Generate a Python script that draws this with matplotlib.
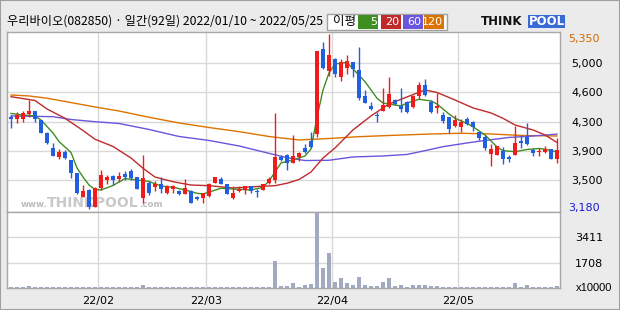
import matplotlib
matplotlib.use("Agg")
import matplotlib.pyplot as plt
from matplotlib.patches import Rectangle

# === DATA ===
title = "우리바이오(082850) · 일간(92일) 2022/01/10 ~ 2022/05/25"

opens = [4325, 4295, 4295, 4355, 4395, 4285, 4125, 3935, 3825, 3890,
         3790, 3625, 3335, 3420, 3210, 3445, 3540, 3590, 3550, 3615,
         3655, 3580, 3325, 3500, 3460, 3495, 3385, 3430, 3410, 3375,
         3410, 3330, 3320, 3350, 3510, 3555, 3495, 3320, 3410, 3420,
         3470, 3410, 3420, 3500, 3540, 3830, 3850, 3755, 3830, 3940,
         4025, 4110, 5160, 4895, 5040, 4810, 4925, 5000, 4900, 4585,
         4455, 4345, 4395, 4440, 4525, 4455, 4505, 4440, 4580, 4715,
         4505, 4435, 4345, 4325, 4210, 4200, 4295, 4265, 4140, 4070,
         3860, 3850, 3905, 3825, 3850, 4025, 4070, 3915, 3890, 3890,
         3925, 3800]
highs = [4340, 4385, 4395, 4525, 4400, 4290, 4130, 4005, 3925, 3915,
         3795, 3630, 3480, 3430, 3450, 3665, 3600, 3605, 3640, 3650,
         3675, 3585, 3850, 3530, 3530, 3575, 3480, 3480, 3420, 3555,
         3420, 3345, 3385, 3505, 3580, 3575, 3495, 3470, 3470, 3470,
         3470, 3425, 3495, 3575, 4370, 3850, 3865, 4100, 3890, 3985,
         4140, 5140, 5250, 5350, 5045, 5040, 5090, 5000, 5190, 4655,
         4510, 4380, 4675, 4820, 4545, 4675, 4520, 4595, 4755, 4790,
         4530, 4620, 4380, 4325, 4345, 4295, 4315, 4270, 4140, 4100,
         3985, 3965, 3945, 3850, 4210, 4100, 4250, 3935, 3940, 3965,
         3925, 4060]
lows = [4190, 4245, 4260, 4325, 4260, 4120, 3990, 3840, 3800, 3800,
        3570, 3370, 3330, 3180, 3210, 3420, 3495, 3480, 3520, 3540,
        3540, 3430, 3255, 3355, 3410, 3380, 3370, 3380, 3355, 3365,
        3260, 3300, 3260, 3335, 3510, 3495, 3365, 3310, 3395, 3370,
        3380, 3335, 3420, 3495, 3500, 3775, 3665, 3755, 3775, 3880,
        3935, 4070, 4910, 4830, 4820, 4760, 4855, 4820, 4525, 4490,
        4410, 4265, 4395, 4430, 4470, 4380, 4365, 4435, 4540, 4580,
        4370, 4365, 4245, 4120, 4200, 4140, 4220, 4150, 4035, 3915,
        3720, 3850, 3740, 3760, 3850, 3935, 3975, 3840, 3840, 3870,
        3800, 3755]
closes = [4295, 4345, 4370, 4395, 4295, 4125, 3995, 3840, 3890, 3810,
          3625, 3380, 3405, 3210, 3440, 3600, 3580, 3540, 3590, 3585,
          3565, 3435, 3570, 3380, 3495, 3430, 3470, 3470, 3365, 3445,
          3260, 3305, 3385, 3495, 3575, 3495, 3365, 3380, 3435, 3470,
          3410, 3395, 3495, 3555, 3825, 3790, 3755, 3840, 3880, 3890,
          3945, 5140, 4930, 5090, 4855, 4995, 5015, 4910, 4555, 4500,
          4420, 4335, 4465, 4605, 4480, 4420, 4385, 4580, 4715, 4590,
          4380, 4455, 4270, 4170, 4285, 4265, 4235, 4195, 4060, 3935,
          3925, 3965, 3800, 3800, 4005, 3995, 3985, 3870, 3905, 3925,
          3800, 3915]
# volume, x10000 shares
volumes = [90, 80, 70, 120, 90, 70, 60, 70, 60, 60,
           60, 70, 60, 70, 60, 80, 60, 60, 50, 60,
           60, 50, 190, 80, 60, 50, 50, 50, 50, 60,
           60, 50, 50, 60, 50, 50, 50, 50, 50, 50,
           50, 50, 60, 80, 1800, 120, 120, 320, 70, 180,
           280, 5117, 1380, 2350, 420, 690, 350, 230, 740, 180,
           120, 120, 420, 690, 160, 180, 90, 200, 200, 200,
           140, 140, 70, 60, 60, 70, 60, 60, 60, 60,
           60, 60, 60, 60, 350, 90, 200, 60, 60, 70,
           60, 110]

ma5_idx = [0, 2, 4, 5, 7, 8, 10, 11, 12, 13, 14, 15, 17, 19, 21, 23, 25, 27, 29,
           31, 32, 35, 38, 40, 42, 43, 44, 45, 47, 49, 50, 51, 52, 53, 54, 56, 57,
           59, 61, 62, 65, 66, 68, 70, 71, 73, 74, 76, 77, 79, 81, 82, 84, 86, 88,
           89, 91]
ma5 = [4365, 4346, 4334, 4284, 4123, 4018, 3882, 3691, 3579, 3480, 3425, 3419,
       3474, 3561, 3542, 3524, 3468, 3452, 3419, 3378, 3369, 3440, 3427, 3419,
       3452, 3530, 3641, 3753, 3790, 3839, 3926, 4321, 4655, 4865, 4977, 4995,
       4915, 4758, 4553, 4494, 4457, 4494, 4540, 4519, 4482, 4358, 4305, 4241,
       4201, 4099, 3950, 3905, 3892, 3919, 3932, 3922, 3889]
ma20_idx = [0, 4, 6, 9, 12, 14, 17, 20, 22, 24, 27, 30, 33, 37, 41, 44, 46, 48,
            50, 52, 54, 57, 60, 63, 66, 69, 71, 74, 77, 80, 82, 84, 87, 89, 91]
ma20 = [4572, 4525, 4420, 4305, 4154, 4046, 3957, 3814, 3687, 3579, 3521, 3480,
        3472, 3443, 3462, 3472, 3502, 3548, 3641, 3814, 3938, 4161, 4334, 4482,
        4569, 4655, 4624, 4531, 4433, 4371, 4305, 4222, 4161, 4099, 4006]
ma60_idx = [0, 7, 10, 14, 18, 23, 28, 33, 38, 43, 46, 49, 53, 57, 62, 66, 69,
            72, 76, 79, 83, 87, 91]
ma60 = [4334, 4325, 4290, 4263, 4241, 4167, 4080, 4031, 3963, 3872, 3818, 3783,
        3786, 3827, 3839, 3858, 3905, 3954, 4000, 4031, 4068, 4086, 4109]
ma120_idx = [0, 3, 6, 9, 14, 18, 23, 28, 33, 38, 43, 48, 53, 58, 64, 70, 75, 80,
             85, 91]
ma120 = [4593, 4581, 4553, 4513, 4445, 4395, 4318, 4247, 4191, 4140, 4080, 4037,
         4055, 4078, 4095, 4111, 4120, 4111, 4093, 4086]

month_starts = [15, 33, 54, 75]
month_labels = ["22/02", "22/03", "22/04", "22/05"]
price_hi, price_lo = 5350, 3180
price_labels = ["3,500", "3,900", "4,300", "4,600", "5,000"]
vol_max = 5117
vol_labels = ["1708", "3411"]
ma_names = ["5", "20", "60", "120"]

# === STYLE ===
UP, DOWN = "#f01c1c", "#1f5fe0"
MA_COLORS = ["#3d8f22", "#c02a2a", "#6a55dd", "#dd7200"]
GRID = "#d9d9d9"
BG = "#ebebeb"
KR = ["Noto Sans CJK KR", "DejaVu Sans"]

W, H = 620, 310
def box(x0, y0, x1, y1):
    return [x0 / W, 1 - y1 / H, (x1 - x0) / W, (y1 - y0) / H]

def px_to_idx(px):
    return (px - 11) / 6.0

fig = plt.figure(figsize=(6.2, 3.1), dpi=100, facecolor=BG)
ax = fig.add_axes(box(7, 32, 560, 212))
axv = fig.add_axes(box(7, 212, 560, 288), sharex=ax)

n = len(closes)
x = list(range(n))

# price panel
step = (price_hi - price_lo) / 6
levels = [price_lo + k * step for k in range(1, 6)]
ax.set_ylim(price_lo - 2.7 * 12.365, price_hi + 1.75 * 12.365)
ax.set_xlim(-0.667, 91.5)
for lv in levels:
    ax.axhline(lv, color=GRID, lw=1, zorder=0)
for m in month_starts:
    ax.axvline(m - 0.5, color=GRID, lw=1, zorder=0)
    axv.axvline(m - 0.5, color=GRID, lw=1, zorder=0)

# watermark
ax.text(px_to_idx(21), 3240, "www.", fontsize=6.2, color="#bdbdbd",
        fontweight="bold", va="center", zorder=1)
ax.text(px_to_idx(47), 3255, "THINKPOOL", fontsize=10, color="#c9c9c9",
        fontweight="bold", va="center", zorder=1)
ax.text(px_to_idx(139), 3240, ".com", fontsize=6.2, color="#bdbdbd",
        fontweight="bold", va="center", zorder=1)

for xs, ys, c in zip([ma120_idx, ma60_idx, ma20_idx, ma5_idx],
                     [ma120, ma60, ma20, ma5], MA_COLORS[::-1]):
    ax.plot(xs, ys, color=c, lw=1.0, zorder=2)

for i in x:
    o, h, l, c = opens[i], highs[i], lows[i], closes[i]
    col = UP if c >= o else DOWN
    ax.vlines(i, l, h, color=col, lw=1, zorder=3)
    lo, hi = min(o, c), max(o, c)
    ax.bar(i, max(hi - lo, 12), bottom=lo, width=0.8, color=col, lw=0, zorder=4)

ax.yaxis.tick_right()
ax.set_yticks(levels)
ax.set_yticklabels(price_labels)
ax.tick_params(axis="y", length=0, pad=8, labelsize=8)
ax.tick_params(axis="x", length=0, labelbottom=False)
ax.text(1.0145, price_hi, "5,350", transform=ax.get_yaxis_transform(),
        color="#d06a00", fontsize=8, ha="left", va="top")
ax.text(1.0145, price_lo + 20, "3,180", transform=ax.get_yaxis_transform(),
        color="#1a1ad0", fontsize=8, ha="left", va="center")

# volume panel
axv.set_ylim(0, vol_max * 1.0)
for k in (1, 2):
    axv.axhline(vol_max * k / 3, color=GRID, lw=1, zorder=0)
axv.bar(x, volumes, width=0.8, color="#a2aac1", lw=0, zorder=2)
axv.yaxis.tick_right()
axv.set_yticks([vol_max / 3, vol_max * 2 / 3])
axv.set_yticklabels(vol_labels)
axv.tick_params(axis="y", length=0, pad=11, labelsize=8)
axv.text((576 - 7) / 553, 0.0, "x10000", transform=axv.transAxes,
         fontsize=8, family="Liberation Sans", ha="left", va="center")
axv.set_xticks([m - 0.5 for m in month_starts])
axv.set_xticklabels(month_labels)
axv.tick_params(axis="x", length=0, pad=6, labelsize=8)

for a in (ax, axv):
    a.set_facecolor("white")
    for s in a.spines.values():
        s.set_color("#a8a8a8")
        s.set_linewidth(1)

# header
fig.text(7 / W, 1 - 21 / H, title, family=KR, fontsize=8.8, va="center", ha="left")
fig.patches.append(Rectangle((327 / W, 1 - 29.5 / H), 120 / W, 15.5 / H,
                             transform=fig.transFigure, facecolor="white",
                             edgecolor="#a0a0a0", lw=1))
fig.text(333 / W, 1 - 22 / H, "이평", family=KR, fontsize=9, va="center", ha="left")
bx = [358, 380.5, 402.5, 424]
for b, name, c in zip(bx, ma_names, MA_COLORS):
    fig.patches.append(Rectangle((b / W, 1 - 28.5 / H), 20 / W, 13.5 / H,
                                 transform=fig.transFigure, facecolor=c, lw=0))
    fig.text((b + 19) / W, 1 - 22 / H, name, color="white", fontsize=8,
             va="center", ha="right")

# logo
fig.text(481 / W, 1 - 21.5 / H, "THINK", fontsize=8.5, fontweight="bold",
         va="center", ha="left", color="#111111")
fig.patches.append(Rectangle((528 / W, 1 - 27.5 / H), 37 / W, 12.5 / H,
                             transform=fig.transFigure, facecolor="#3a6ad6", lw=0))
fig.text(546.5 / W, 1 - 21.5 / H, "POOL", fontsize=8.5, fontweight="bold",
         va="center", ha="center", color="white")

fig.patches.append(Rectangle((0, 0), 1, 1, transform=fig.transFigure, fill=False,
                             edgecolor="#a0a0a0", lw=1.5))

fig.savefig("out.png", dpi=100, facecolor=BG)
